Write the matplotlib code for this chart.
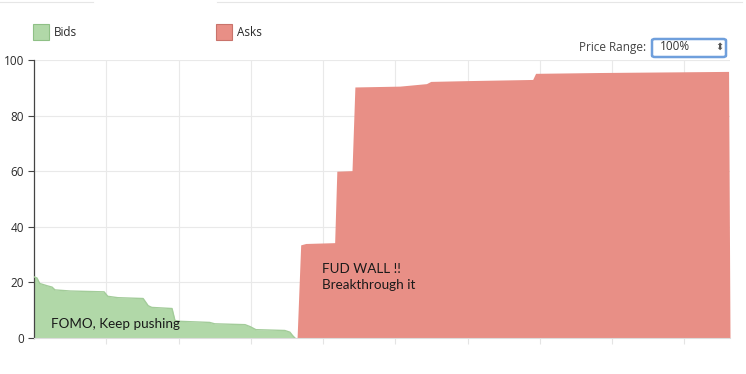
import matplotlib
matplotlib.use("Agg")
import matplotlib.pyplot as plt
from matplotlib.patches import FancyBboxPatch, Rectangle

# ---- data (price axis units, depth values) ----
bids_x = [0.00, 0.04, 0.08, 0.18, 0.25, 0.29, 0.50, 0.97, 1.02, 1.16, 1.51, 1.58,
          1.63, 1.91, 1.95, 2.02, 2.43, 2.50, 2.92, 2.99, 3.07, 3.47, 3.54, 3.58, 3.61]
bids_y = [22.0, 21.6, 19.6, 18.8, 18.3, 17.3, 16.9, 16.6, 15.0, 14.5, 14.2, 11.6,
          11.0, 10.6, 6.3, 6.0, 5.6, 5.1, 4.8, 4.1, 3.0, 2.7, 2.1, 0.8, 0.0]
asks_x = [3.64, 3.69, 3.76, 4.16, 4.19, 4.40, 4.44, 5.06, 5.43, 5.49, 6.03, 6.90,
          6.94, 7.83, 9.61]
asks_y = [0.0, 33.5, 34.0, 34.3, 60.0, 60.2, 90.3, 90.6, 91.5, 92.3, 92.6, 93.0,
          95.2, 95.5, 95.9]
y_ticks = [0, 20, 40, 60, 80, 100]
legend_labels = ["Bids", "Asks"]
notes = ["FOMO, Keep pushing", "FUD WALL !!\nBreakthrough it"]

GREEN = "#b1d8a8"
GREEN_EDGE = "#a3cc9a"
RED = "#e88f86"

plt.rcParams['font.family'] = ['Open Sans', 'DejaVu Sans']

W, H = 746, 374
fig = plt.figure(figsize=(W / 100, H / 100), dpi=100)
fig.patch.set_facecolor("white")

x0, x1, ytop, ybot = 34, 730, 60, 338
ax = fig.add_axes([x0 / W, (H - ybot) / H, (x1 - x0) / W, (ybot - ytop) / H])
ax.set_xlim(0, 9.63)
ax.set_ylim(0, 100)

ax.fill_between(bids_x, bids_y, 0, color=GREEN, lw=0, zorder=2)
ax.plot(bids_x, bids_y, color=GREEN_EDGE, lw=1.0, zorder=3)
ax.fill_between(asks_x + [9.63], asks_y + [0], 0, color=RED, lw=0, zorder=2)

# grid
ax.set_yticks(y_ticks)
ax.set_xticks([1, 2, 3, 4, 5, 6, 7, 8, 9])
ax.grid(True, color="#e9e9e9", lw=0.8, zorder=0)
ax.set_axisbelow(True)
ax.tick_params(axis="x", length=4, color="#e4e4e4", labelbottom=False)
ax.tick_params(axis="y", length=4, width=0.8, color="#444444", labelsize=8.5,
               labelcolor="#2a2a2a", pad=3)
for s in ["top", "right"]:
    ax.spines[s].set_visible(False)
ax.spines["left"].set_color("#444444")
ax.spines["left"].set_linewidth(0.9)
ax.spines["bottom"].set_color("#dddddd")
ax.spines["bottom"].set_linewidth(0.8)

# annotations
ax.text(0.23, 5.2, notes[0], fontsize=9.7, color="#1a1a1a", family=['Lato', 'DejaVu Sans'],
        va="center", ha="left", zorder=5)
ax.text(3.99, 22.0, notes[1], fontsize=9.7, color="#1a1a1a", family=['Lato', 'DejaVu Sans'],
        va="center", ha="left", linespacing=1.35, zorder=5)

# legend (drawn in figure pixels)
def fx(px):
    return px / W

def fy(py):
    return (H - py) / H

fig.patches.append(Rectangle((fx(33), fy(40)), 16 / W, 16 / H, transform=fig.transFigure,
                             facecolor=GREEN, edgecolor="#8fc086", lw=0.8))
fig.text(fx(54), fy(32), legend_labels[0], fontsize=8.5, color="#2a2a2a", va="center")
fig.patches.append(Rectangle((fx(216), fy(40)), 16 / W, 16 / H, transform=fig.transFigure,
                             facecolor=RED, edgecolor="#c9736b", lw=0.8))
fig.text(fx(237), fy(32), legend_labels[1], fontsize=8.5, color="#2a2a2a", va="center")

# price range selector
fig.text(fx(646), fy(47), "Price Range:", fontsize=8.5, color="#444444", va="center", ha="right")
fig.patches.append(FancyBboxPatch((fx(652), fy(57)), 74 / W, 18 / H,
                                  boxstyle="round,pad=0.0,rounding_size=0.004",
                                  transform=fig.transFigure, facecolor="white",
                                  edgecolor="#6f9fdc", lw=1.8))
fig.text(fx(660), fy(47), "100%", fontsize=8.5, color="#333333", va="center")
fig.text(fx(719), fy(47), "\u2b0d", fontsize=7, color="#555555", va="center", ha="center",
         family=['DejaVu Sans'])

# faint top boxes
fig.add_artist(plt.Line2D([0, fx(93)], [fy(2), fy(2)], transform=fig.transFigure,
                          color="#e6e6e6", lw=0.8))
fig.add_artist(plt.Line2D([fx(217), fx(742)], [fy(2), fy(2)], transform=fig.transFigure,
                          color="#e6e6e6", lw=0.8))

fig.savefig("out.png", dpi=100, facecolor="white")
